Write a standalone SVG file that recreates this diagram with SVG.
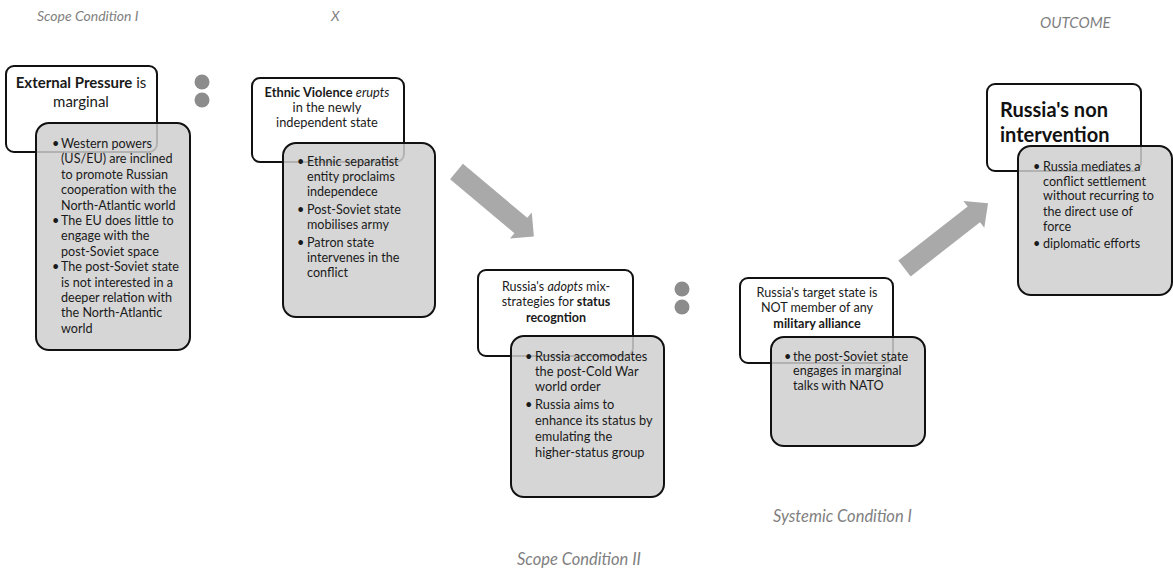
<svg xmlns="http://www.w3.org/2000/svg" width="1173" height="570" viewBox="0 0 1173 570">
  <style>
    .lbl { font-family: Lato, "Liberation Sans", sans-serif; font-style: italic; fill: #7f7f7f; }
    .head { fill: #ffffff; stroke: #111111; stroke-width: 2; }
    .body { fill: #cfcfcf; fill-opacity: 0.85; stroke: #111111; stroke-width: 2; }
    .t { font-family: Lato, "Liberation Sans", sans-serif; fill: #1a1a1a; }
    .tc { text-anchor: middle; }
    .b { font-weight: bold; }
    .i { font-style: italic; }
    .big { font-family: Lato, "Liberation Sans", sans-serif; fill: #111111; font-size: 20px; font-weight: bold; }
    .dot { fill: #8c8c8c; }
    .arrow { fill: #a9a9a9; }
  </style>

  <!-- column labels -->
  <g id="labels">
    <text class="lbl" x="37" y="21" font-size="14">Scope Condition I</text>
    <text class="lbl" x="331" y="21" font-size="14">X</text>
    <text class="lbl" x="1040" y="28" font-size="15">OUTCOME</text>
    <text class="lbl" x="773" y="522" font-size="16.5">Systemic Condition I</text>
    <text class="lbl" x="517" y="565" font-size="16.5">Scope Condition II</text>
  </g>

  <!-- Scope Condition I: external pressure -->
  <g id="node-external-pressure">
    <rect class="head" x="6" y="66" width="151" height="86" rx="8"/>
    <g class="t tc" font-size="15">
      <text x="81" y="88"><tspan class="b">External Pressure</tspan> is</text>
      <text x="81" y="107">marginal</text>
    </g>
    <rect class="body" x="36" y="123" width="154" height="227" rx="13"/>
    <g class="t" font-size="12.6">
      <text x="52" y="148">•</text>
      <text x="61" y="148">Western powers</text>
      <text x="61" y="163.4">(US/EU) are inclined</text>
      <text x="61" y="178.8">to promote Russian</text>
      <text x="61" y="194.2">cooperation with the</text>
      <text x="61" y="209.6">North-Atlantic world</text>
      <text x="52" y="225">•</text>
      <text x="61" y="225">The EU does little to</text>
      <text x="61" y="240.4">engage with the</text>
      <text x="61" y="255.8">post-Soviet space</text>
      <text x="52" y="271.2">•</text>
      <text x="61" y="271.2">The post-Soviet state</text>
      <text x="61" y="286.6">is not interested in a</text>
      <text x="61" y="302">deeper relation with</text>
      <text x="61" y="317.4">the North-Atlantic</text>
      <text x="61" y="332.8">world</text>
    </g>
    <circle class="dot" cx="202" cy="82" r="7.5"/>
    <circle class="dot" cx="202" cy="100" r="7.5"/>
  </g>

  <!-- X: ethnic violence -->
  <g id="node-ethnic-violence">
    <rect class="head" x="252" y="78" width="152" height="84" rx="8"/>
    <g class="t tc" font-size="12.8">
      <text x="327" y="97"><tspan class="b">Ethnic Violence</tspan> <tspan class="i">erupts</tspan></text>
      <text x="327" y="112">in the newly</text>
      <text x="327" y="127">independent state</text>
    </g>
    <rect class="body" x="283" y="143" width="152" height="174" rx="13"/>
    <g class="t" font-size="12.6">
      <text x="297" y="166">•</text>
      <text x="307" y="166">Ethnic separatist</text>
      <text x="307" y="181">entity proclaims</text>
      <text x="307" y="196">independece</text>
      <text x="297" y="214">•</text>
      <text x="307" y="214">Post-Soviet state</text>
      <text x="307" y="229">mobilises army</text>
      <text x="297" y="247">•</text>
      <text x="307" y="247">Patron state</text>
      <text x="307" y="262">intervenes in the</text>
      <text x="307" y="277">conflict</text>
    </g>
  </g>

  <!-- Scope Condition II: status recognition -->
  <g id="node-status-recognition">
    <rect class="head" x="478" y="270" width="155" height="86" rx="8"/>
    <g class="t tc" font-size="12.5">
      <text x="556" y="291">Russia's <tspan class="i">adopts</tspan> mix-</text>
      <text x="556" y="306">strategies for <tspan class="b">status</tspan></text>
      <text x="556" y="322" class="b">recogntion</text>
    </g>
    <rect class="body" x="511" y="336" width="153" height="161" rx="13"/>
    <g class="t" font-size="12.8">
      <text x="525" y="361">•</text>
      <text x="535" y="361">Russia accomodates</text>
      <text x="535" y="376">the post-Cold War</text>
      <text x="535" y="391">world order</text>
      <text x="525" y="409">•</text>
      <text x="535" y="409">Russia aims to</text>
      <text x="535" y="424.5">enhance its status by</text>
      <text x="535" y="441">emulating the</text>
      <text x="535" y="456.5">higher-status group</text>
    </g>
    <circle class="dot" cx="682" cy="289" r="7.5"/>
    <circle class="dot" cx="682" cy="307" r="7.5"/>
  </g>

  <!-- Systemic Condition I: alliance membership -->
  <g id="node-military-alliance">
    <rect class="head" x="740" y="278" width="153" height="85" rx="8"/>
    <g class="t tc" font-size="12.6">
      <text x="817" y="297">Russia's target state is</text>
      <text x="817" y="312">NOT member of any</text>
      <text x="817" y="328" class="b">military alliance</text>
    </g>
    <rect class="body" x="771" y="337" width="154" height="109" rx="13"/>
    <g class="t" font-size="12.6">
      <text x="784" y="361">•</text>
      <text x="793" y="361">the post-Soviet state</text>
      <text x="793" y="375">engages in marginal</text>
      <text x="793" y="389.5">talks with NATO</text>
    </g>
  </g>

  <!-- OUTCOME: non intervention -->
  <g id="node-non-intervention">
    <rect class="head" x="987" y="84" width="154" height="87" rx="8"/>
    <text class="big" x="1000" y="117">Russia's non</text>
    <text class="big" x="1000" y="142">intervention</text>
    <rect class="body" x="1018" y="146" width="154" height="149" rx="13"/>
    <g class="t" font-size="12.6">
      <text x="1033" y="171">•</text>
      <text x="1043" y="171">Russia mediates a</text>
      <text x="1043" y="185.5">conflict settlement</text>
      <text x="1043" y="200">without recurring to</text>
      <text x="1043" y="215.5">the direct use of</text>
      <text x="1043" y="231">force</text>
      <text x="1033" y="247.5">•</text>
      <text x="1043" y="247.5">diplomatic efforts</text>
    </g>
  </g>

  <!-- block arrows -->
  <g id="connectors">
    <polygon class="arrow" transform="translate(456.5 171.5) rotate(40)" points="0,-10 84,-10 84,-17 101,0 84,17 84,10 0,10"/>
    <polygon class="arrow" transform="translate(904.5 268.5) rotate(-38)" points="0,-10 88,-10 88,-17 106,0 88,17 88,10 0,10"/>
  </g>
</svg>
